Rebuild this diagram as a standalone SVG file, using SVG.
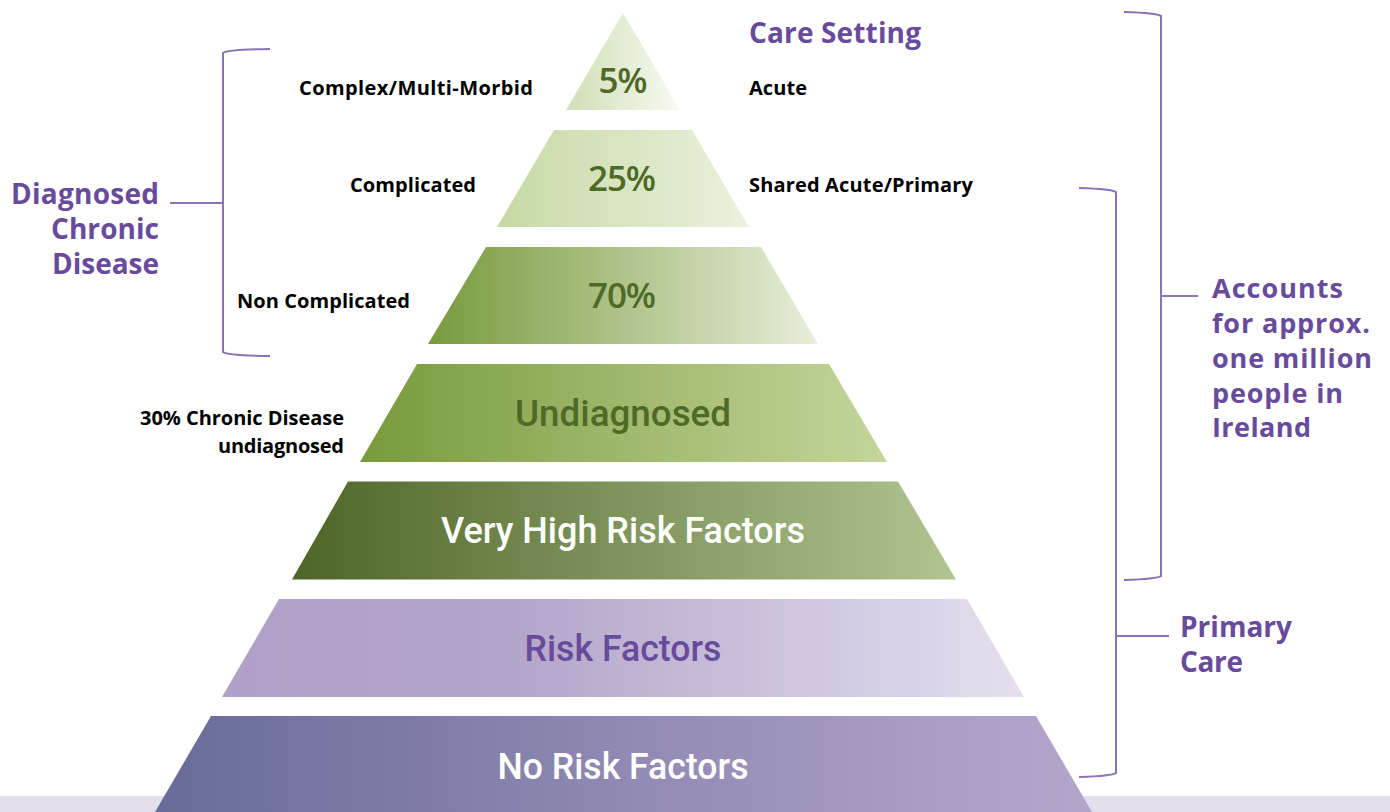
<svg xmlns="http://www.w3.org/2000/svg" width="1390" height="812" viewBox="0 0 1390 812">
<defs>
<linearGradient id="g1" x1="0" y1="0" x2="1" y2="0"><stop offset="0" stop-color="#cfdfb6"/><stop offset="1" stop-color="#f8faf2"/></linearGradient>
<linearGradient id="g2" x1="0" y1="0" x2="1" y2="0"><stop offset="0" stop-color="#c6d9a4"/><stop offset="1" stop-color="#ebf1de"/></linearGradient>
<linearGradient id="g3" x1="0" y1="0" x2="1" y2="0"><stop offset="0" stop-color="#799a3d"/><stop offset="0.5" stop-color="#afc38a"/><stop offset="1" stop-color="#e8efdb"/></linearGradient>
<linearGradient id="g4" x1="0" y1="0" x2="1" y2="0"><stop offset="0" stop-color="#799a3c"/><stop offset="1" stop-color="#c4d69c"/></linearGradient>
<linearGradient id="g5" x1="0" y1="0" x2="1" y2="0"><stop offset="0" stop-color="#4e6527"/><stop offset="1" stop-color="#b1c491"/></linearGradient>
<linearGradient id="g6" x1="0" y1="0" x2="1" y2="0"><stop offset="0" stop-color="#b0a0c7"/><stop offset="0.35" stop-color="#b3a4c9"/><stop offset="1" stop-color="#e4dfee"/></linearGradient>
<linearGradient id="g7" x1="0" y1="0" x2="1" y2="0"><stop offset="0" stop-color="#676c98"/><stop offset="0.85" stop-color="#ad9ec6"/><stop offset="1" stop-color="#b4a5cb"/></linearGradient>
<style>
.blk{font-family:"Open Sans","Liberation Sans",sans-serif;font-weight:700;font-size:20px;fill:#000}
.pur{font-family:"Open Sans","Liberation Sans",sans-serif;font-weight:700;font-size:28px;fill:#684b9c}
.pur2{font-family:"Open Sans","Liberation Sans",sans-serif;font-weight:700;font-size:27px;fill:#684b9c}
.pct{font-family:"Open Sans","Liberation Sans",sans-serif;font-weight:600;font-size:35px;fill:#4f6a27;text-anchor:middle}
.lay{font-family:Roboto,"Liberation Sans",sans-serif;font-weight:500;font-size:37px;text-anchor:middle}
.br{fill:none;stroke:#8a74b6;stroke-width:2}
</style>
</defs>
<rect x="0" y="796" width="1390" height="16" fill="#e4dfec"/>
<g id="layer1"><polygon points="623,13 680,110 566,110" fill="url(#g1)"/><text class="pct" x="623" y="93" textLength="49">5%</text></g>
<g id="layer2"><polygon points="554,130 692,130 749,227 497,227" fill="url(#g2)"/><text class="pct" x="622" y="191" textLength="68">25%</text></g>
<g id="layer3"><polygon points="486,247 761,247 818,344 428,344" fill="url(#g3)"/><text class="pct" x="622" y="308" textLength="68">70%</text></g>
<g id="layer4"><polygon points="417,364 829,364 887,462 360,462" fill="url(#g4)"/><text class="lay" x="623" y="426" textLength="216" lengthAdjust="spacingAndGlyphs" fill="#4f6a27">Undiagnosed</text></g>
<g id="layer5"><polygon points="348,481.5 898,481.5 956,579.5 292,579.5" fill="url(#g5)"/><text class="lay" x="623" y="543" textLength="364" lengthAdjust="spacingAndGlyphs" fill="#ffffff">Very High Risk Factors</text></g>
<g id="layer6"><polygon points="279,599 967,599 1024,697 222,697" fill="url(#g6)"/><text class="lay" x="623" y="661" textLength="197" lengthAdjust="spacingAndGlyphs" fill="#684b9c">Risk Factors</text></g>
<g id="layer7"><polygon points="211,716 1036,716 1092,812 155,812" fill="url(#g7)"/><text class="lay" x="623" y="779" textLength="251" lengthAdjust="spacingAndGlyphs" fill="#ffffff">No Risk Factors</text></g>
<g id="left-labels">
<text class="blk" x="533" y="95" text-anchor="end" textLength="234">Complex/Multi-Morbid</text>
<text class="blk" x="476" y="192" text-anchor="end" textLength="126">Complicated</text>
<text class="blk" x="410" y="308" text-anchor="end" textLength="173">Non Complicated</text>
<text class="blk" x="344" y="425" text-anchor="end" textLength="204">30% Chronic Disease</text>
<text class="blk" x="344" y="453" text-anchor="end" textLength="126">undiagnosed</text>
</g>
<g id="care-setting">
<text class="pur" x="749" y="43" textLength="172">Care Setting</text>
<text class="blk" x="749" y="95" textLength="58">Acute</text>
<text class="blk" x="749" y="192" textLength="224">Shared Acute/Primary</text>
</g>
<g id="diagnosed">
<text class="pur" x="159" y="204" text-anchor="end" textLength="148">Diagnosed</text>
<text class="pur" x="159" y="239" text-anchor="end" textLength="108">Chronic</text>
<text class="pur" x="159" y="274" text-anchor="end" textLength="107">Disease</text>
</g>
<g id="accounts">
<text class="pur2" x="1212" y="298" textLength="131">Accounts</text>
<text class="pur2" x="1212" y="333" textLength="158">for approx.</text>
<text class="pur2" x="1212" y="368" textLength="160">one million</text>
<text class="pur2" x="1212" y="403" textLength="131">people in</text>
<text class="pur2" x="1212" y="437" textLength="99">Ireland</text>
</g>
<g id="primary-care">
<text class="pur" x="1180" y="637" textLength="112">Primary</text>
<text class="pur" x="1180" y="672" textLength="63">Care</text>
</g>
<g id="connectors">
<path class="br" d="M270,49 Q227,49.5 223,53 L223,352 Q227,355.5 270,356"/>
<path class="br" d="M170,203 L223,203"/>
<path class="br" d="M1124,12 Q1157,13 1161,16 L1161,576 Q1157,579 1124,580"/>
<path class="br" d="M1161,296 L1198,296"/>
<path class="br" d="M1079,188 Q1112,189 1116,192 L1116,773 Q1112,776 1079,777"/>
<path class="br" d="M1116,636 L1169,636"/>
</g>
</svg>
